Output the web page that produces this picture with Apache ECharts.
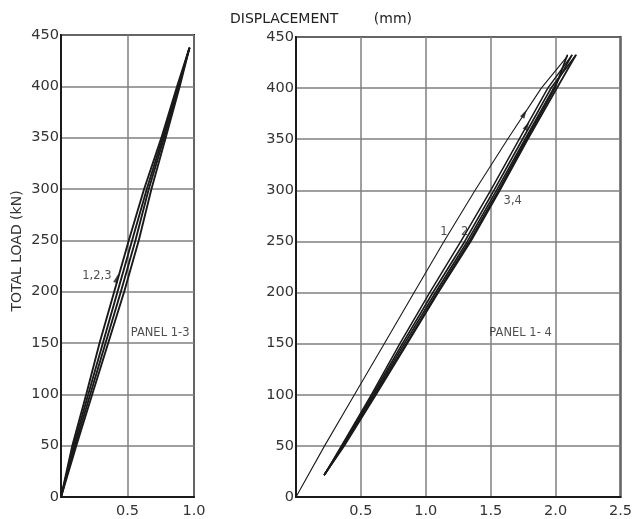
<!DOCTYPE html>
<html>
<head>
<meta charset="utf-8">
<script src="https://cdn.jsdelivr.net/npm/echarts@6/dist/echarts.min.js"></script>
<style>html,body{margin:0;padding:0;background:#fff;}#c{width:635px;height:519px;}</style>
</head>
<body>
<div id="c"></div>
<script>
// ---------- data ----------
const xTicksLeft = [0, 0.5, 1.0];
const xTicksRight = [0, 0.5, 1.0, 1.5, 2.0, 2.5];
const loadTicks = [0, 50, 100, 150, 200, 250, 300, 350, 400, 450];

// Panel 1-3 (left) : load levels and displacement of the cycle curves
const leftLoads = [0, 50, 100, 150, 200, 250, 300, 350, 400, 437];
const leftCurveA = [0, 0.085, 0.19, 0.29, 0.40, 0.51, 0.625, 0.755, 0.873, 0.965];
const leftCurveB = [0, 0.095, 0.205, 0.315, 0.425, 0.535, 0.645, 0.765, 0.88, 0.965];
const leftCurveC = [0, 0.105, 0.22, 0.335, 0.45, 0.56, 0.66, 0.775, 0.886, 0.965];
const leftCurveD = [0, 0.115, 0.235, 0.355, 0.475, 0.585, 0.68, 0.787, 0.893, 0.965];

// Panel 1-4 (right)
const r1LoadLevels = [0, 50, 100, 150, 200, 250, 300, 350, 400, 431];
const r1Loading = [0, 0.22, 0.45, 0.68, 0.91, 1.14, 1.38, 1.63, 1.89, 2.09];
const bandLoads = [22, 50, 100, 150, 200, 250, 300, 350, 400, 432];
const r1Unloading = [0.22, 0.365, 0.61, 0.85, 1.09, 1.335, 1.56, 1.775, 1.995, 2.09];
const r2Loading = [0.22, 0.35, 0.58, 0.80, 1.03, 1.27, 1.50, 1.72, 1.94, 2.125];
const r2Unloading = [0.22, 0.36, 0.60, 0.835, 1.075, 1.32, 1.545, 1.765, 1.985, 2.125];
const r3Loading = [0.22, 0.355, 0.59, 0.82, 1.055, 1.30, 1.525, 1.745, 1.965, 2.155];
const r3Unloading = [0.22, 0.37, 0.615, 0.855, 1.095, 1.345, 1.57, 1.785, 2.01, 2.155];

// arrows [x, load]
const leftArrow = [0.42, 213];
const rightArrows = [[1.76, 375], [1.78, 363]];

// annotations [x, load, text]
const leftNotes = [[0.27, 215, '1,2,3'], [0.745, 160, 'PANEL 1-3']];
const rightNotes = [[1.14, 259, '1'], [1.30, 259, '2'], [1.67, 290, '3,4'], [1.73, 160, 'PANEL 1- 4']];

// ---------- chart ----------
const pair = (xs, ys) => xs.map((x, i) => [x, ys[i]]);
const font = 'DejaVu Sans';
const ink = '#1a1a1a';

function xAxisDef(idx, max) {
  return {
    gridIndex: idx, type: 'value', min: 0, max: max, interval: 0.5,
    axisLine: { show: true, lineStyle: { color: ink, width: 2 } },
    axisTick: { show: false },
    splitLine: { show: true, lineStyle: { color: '#7f7f7f', width: 1.5 } },
    axisLabel: {
      margin: 7, fontFamily: font, fontSize: 14.5, color: '#333',
      formatter: v => (v === 0 ? '' : v.toFixed(1))
    }
  };
}
function yAxisDef(idx) {
  return {
    gridIndex: idx, type: 'value', min: 0, max: 450, interval: 50,
    axisLine: { show: true, lineStyle: { color: ink, width: 2 } },
    axisTick: { show: false },
    splitLine: { show: true, lineStyle: { color: '#7f7f7f', width: 1.5 } },
    axisLabel: { margin: 2, fontFamily: font, fontSize: 14.5, color: '#333' }
  };
}
function curve(name, xs, ys, xi, w) {
  return {
    name: name, type: 'line', xAxisIndex: xi, yAxisIndex: xi,
    data: pair(xs, ys), showSymbol: false, symbol: 'none', smooth: false,
    lineStyle: { color: ink, width: w, join: 'round', cap: 'round' }, silent: true, z: 3
  };
}
function notes(list, xi) {
  return {
    type: 'scatter', xAxisIndex: xi, yAxisIndex: xi, symbolSize: 0, silent: true,
    data: list.map(n => ({ value: [n[0], n[1]], label: { formatter: n[2] } })),
    label: { show: true, position: 'inside', fontFamily: font, fontSize: 11.5, color: '#222' },
    z: 5
  };
}

const option = {
  animation: false,
  backgroundColor: '#fff',
  title: {
    text: 'DISPLACEMENT        (mm)', left: 230, top: 12, padding: 0,
    textStyle: { fontFamily: font, fontSize: 14, fontWeight: 'normal', color: '#222' }
  },
  graphic: [{
    type: 'text', x: 17, y: 251, rotation: Math.PI / 2,
    style: { text: 'TOTAL LOAD (kN)', align: 'center', verticalAlign: 'middle',
      font: '14px "DejaVu Sans"', fill: '#333' }
  }],
  grid: [
    { left: 61, top: 35, width: 133, height: 465, show: true, borderColor: ink, borderWidth: 2, backgroundColor: 'transparent' },
    { left: 296, top: 37, width: 331, height: 466, show: true, borderColor: ink, borderWidth: 2, backgroundColor: 'transparent' }
  ],
  xAxis: [xAxisDef(0, 1.0), xAxisDef(1, 2.5)],
  yAxis: [yAxisDef(0), yAxisDef(1)],
  series: [
    curve('L-A', leftCurveA, leftLoads, 0, 1.9),
    curve('L-B', leftCurveB, leftLoads, 0, 1.9),
    curve('L-C', leftCurveC, leftLoads, 0, 1.9),
    curve('L-D', leftCurveD, leftLoads, 0, 1.9),
    curve('R1 load', r1Loading, r1LoadLevels, 1, 1.1),
    curve('R1 unload', r1Unloading, bandLoads, 1, 1.7),
    curve('R2 load', r2Loading, bandLoads, 1, 1.5),
    curve('R2 unload', r2Unloading, bandLoads, 1, 1.7),
    curve('R3 load', r3Loading, bandLoads, 1, 1.7),
    curve('R3 unload', r3Unloading, bandLoads, 1, 1.9),
    {
      type: 'scatter', xAxisIndex: 0, yAxisIndex: 0, symbol: 'triangle', symbolSize: [5, 9],
      symbolRotate: -17, data: [leftArrow], itemStyle: { color: ink }, silent: true, z: 6
    },
    {
      type: 'scatter', xAxisIndex: 1, yAxisIndex: 1, symbol: 'triangle', symbolSize: [5, 9],
      symbolRotate: -30, data: rightArrows, itemStyle: { color: ink }, silent: true, z: 6
    },
    notes(leftNotes, 0),
    notes(rightNotes, 1)
  ]
};
const chart = echarts.init(document.getElementById('c'), null, { renderer: 'canvas' });
chart.setOption(option);
</script>
</body>
</html>
